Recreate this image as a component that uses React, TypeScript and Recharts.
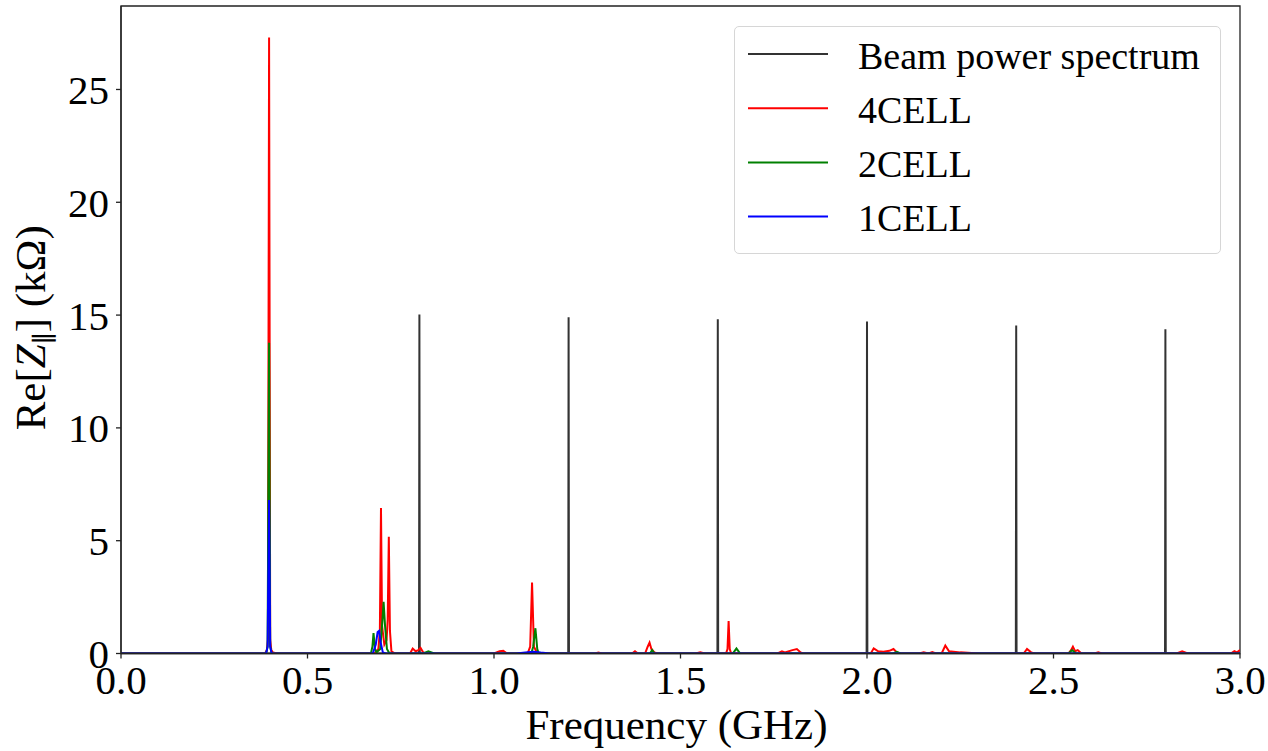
import React from 'react';
import { LineChart, Line, XAxis, YAxis, Legend, ReferenceArea } from 'recharts';

const xTicks = [0, 0.5, 1.0, 1.5, 2.0, 2.5, 3.0];
const yTicks = [0, 5, 10, 15, 20, 25];
const xDomain: [number, number] = [0, 3];
const yDomain: [number, number] = [0, 28.7];

const beamSpectrum: [number, number][] = [
  [0, 0], [0.799, 0], [0.8, 15.03], [0.801, 0],
  [1.199, 0], [1.2, 14.9], [1.201, 0],
  [1.599, 0], [1.6, 14.81], [1.601, 0],
  [1.999, 0], [2.0, 14.72], [2.001, 0],
  [2.399, 0], [2.4, 14.54], [2.401, 0],
  [2.799, 0], [2.8, 14.37], [2.801, 0], [3.0, 0],
];

const cell4: [number, number][] = [
  [0, 0], [0.386, 0], [0.391, 0.15], [0.394, 0.6], [0.397, 27.3], [0.4, 0.6], [0.403, 0.15], [0.407, 0.05], [0.42, 0],
  [0.68, 0], [0.69, 0.2], [0.694, 1.0], [0.697, 6.45], [0.7, 1.2], [0.706, 0.4], [0.712, 0.6], [0.715, 1.5], [0.718, 5.17], [0.721, 1.0], [0.725, 0.1], [0.735, 0],
  [0.775, 0], [0.782, 0.22], [0.79, 0.1], [0.797, 0.15], [0.803, 0.25], [0.81, 0.05], [0.82, 0],
  [1.0, 0], [1.015, 0.1], [1.025, 0.12], [1.035, 0],
  [1.09, 0], [1.097, 0.3], [1.102, 3.15], [1.107, 0.3], [1.115, 0.05], [1.125, 0],
  [1.27, 0], [1.28, 0.04], [1.29, 0],
  [1.37, 0], [1.378, 0.1], [1.386, 0], [1.405, 0], [1.412, 0.3], [1.417, 0.48], [1.422, 0.2], [1.43, 0.05], [1.44, 0],
  [1.54, 0], [1.553, 0.05], [1.565, 0],
  [1.622, 0], [1.626, 0.2], [1.629, 1.44], [1.632, 0.2], [1.636, 0],
  [1.76, 0], [1.772, 0.1], [1.78, 0.05], [1.8, 0.15], [1.812, 0.2], [1.822, 0.05], [1.83, 0],
  [2.01, 0], [2.018, 0.23], [2.03, 0.1], [2.044, 0.08], [2.06, 0.12], [2.071, 0.2], [2.08, 0.05], [2.09, 0],
  [2.14, 0], [2.152, 0.05], [2.165, 0], [2.175, 0.06], [2.185, 0],
  [2.2, 0], [2.21, 0.35], [2.22, 0.1], [2.25, 0.05], [2.3, 0],
  [2.42, 0], [2.429, 0.2], [2.44, 0.05], [2.45, 0],
  [2.54, 0], [2.547, 0.15], [2.552, 0.3], [2.558, 0.1], [2.565, 0.15], [2.575, 0],
  [2.61, 0], [2.62, 0.05], [2.63, 0],
  [2.83, 0], [2.845, 0.1], [2.86, 0],
  [2.975, 0], [2.985, 0.1], [2.992, 0.05], [3.0, 0.15],
];

const cell2: [number, number][] = [
  [0, 0], [0.389, 0], [0.393, 0.3], [0.397, 13.77], [0.4, 0.3], [0.404, 0],
  [0.67, 0], [0.674, 0.3], [0.677, 0.9], [0.681, 0.2], [0.685, 0.05], [0.695, 0.2], [0.701, 1.5], [0.704, 2.29], [0.708, 1.2], [0.713, 0.2], [0.72, 0],
  [0.81, 0], [0.824, 0.1], [0.84, 0],
  [1.1, 0], [1.105, 0.3], [1.111, 1.12], [1.116, 0.2], [1.12, 0],
  [1.418, 0], [1.424, 0.15], [1.43, 0],
  [1.64, 0], [1.65, 0.22], [1.66, 0],
  [2.07, 0], [2.08, 0.07], [2.09, 0],
  [2.54, 0], [2.55, 0.15], [2.56, 0],
  [3.0, 0],
];

const cell1: [number, number][] = [
  [0, 0], [0.389, 0], [0.393, 0.3], [0.397, 6.8], [0.4, 0.3], [0.404, 0],
  [0.675, 0], [0.683, 0.4], [0.688, 0.95], [0.692, 1.0], [0.696, 0.5], [0.702, 0.05], [0.71, 0],
  [1.06, 0], [1.09, 0.06], [1.105, 0.08], [1.125, 0.04], [1.15, 0],
  [3.0, 0],
];

const toPoints = (arr: [number, number][]) => arr.map(([f, z]) => ({ f, z }));

const series = [
  { name: 'Beam power spectrum', color: '#333333', data: toPoints(beamSpectrum) },
  { name: '4CELL', color: '#ff0000', data: toPoints(cell4) },
  { name: '2CELL', color: '#008000', data: toPoints(cell2) },
  { name: '1CELL', color: '#0000ff', data: toPoints(cell1) },
];

const FONT = '"Liberation Serif", "DejaVu Serif", serif';
const AXIS = '#222222';

const renderXLabel = (props: any) => {
  const vb = props.viewBox || { x: 121, width: 1119 };
  return (
    <text x={vb.x + vb.width / 2 - 4} y={739} textAnchor="middle" fontSize={43} fontFamily={FONT} fill="#000">
      Frequency (GHz)
    </text>
  );
};

const renderYLabel = (props: any) => {
  const vb = props.viewBox || { y: 6, height: 647 };
  const cy = vb.y + vb.height / 2 - 2;
  const bx = 45;
  return (
    <text x={bx} y={cy} transform={`rotate(-90, ${bx}, ${cy})`} textAnchor="middle" fontSize={43} fontFamily={FONT} fill="#000">
      <tspan>Re[</tspan>
      <tspan fontStyle="italic">Z</tspan>
      <tspan fontSize={26} dy={8}>∥</tspan>
      <tspan dy={-8}>] (kΩ)</tspan>
    </text>
  );
};

const renderLegend = () => (
  <div
    style={{
      width: 487,
      height: 228,
      boxSizing: 'border-box',
      border: '1.5px solid #d6d6d6',
      borderRadius: 5,
      background: 'rgba(255,255,255,0.85)',
    }}
  >
    <svg width={484} height={225} style={{ display: 'block' }}>
      {series.map((s, i) => {
        const y = 27 + i * 54.2;
        return (
          <g key={s.name}>
            <line x1={13} x2={93} y1={y} y2={y} stroke={s.color} strokeWidth={2} />
            <text x={123} y={y + 14.5} fontSize={38} fontFamily={FONT} fill="#000">
              {s.name}
            </text>
          </g>
        );
      })}
    </svg>
  </div>
);

export default function App() {
  return (
    <div style={{ position: 'absolute', left: 0, top: 0, width: 1268, height: 751, background: '#fff' }}>
      <LineChart
        width={1268}
        height={751}
        margin={{ top: 6, right: 28, bottom: 0, left: 0 }}
        style={{ fontFamily: FONT }}
      >
        <XAxis
          dataKey="f"
          type="number"
          domain={xDomain}
          ticks={xTicks}
          allowDataOverflow
          height={97.5}
          tickFormatter={(v: number) => v.toFixed(1)}
          tick={{ fontSize: 41, fill: '#000', fontFamily: FONT }}
          tickSize={5}
          tickMargin={6}
          stroke={AXIS}
          strokeWidth={1.3}
          label={{ content: renderXLabel }}
        />
        <YAxis
          type="number"
          domain={yDomain}
          ticks={yTicks}
          allowDataOverflow
          width={121}
          tick={{ fontSize: 41, fill: '#000', fontFamily: FONT }}
          tickSize={5}
          tickMargin={7}
          stroke={AXIS}
          strokeWidth={1.3}
          label={{ content: renderYLabel }}
        />
        <ReferenceArea
          x1={xDomain[0]}
          x2={xDomain[1]}
          y1={yDomain[0]}
          y2={yDomain[1]}
          fill="none"
          fillOpacity={0}
          stroke={AXIS}
          strokeWidth={1.3}
          ifOverflow="visible"
        />
        <Legend
          layout="vertical"
          align="center"
          verticalAlign="middle"
          content={renderLegend}
          wrapperStyle={{ position: 'absolute', top: 26, left: 734, width: 487, height: 228 }}
        />
        {series.map((s) => (
          <Line
            key={s.name}
            name={s.name}
            data={s.data}
            dataKey="z"
            type="linear"
            stroke={s.color}
            strokeWidth={2}
            dot={false}
            activeDot={false}
            isAnimationActive={false}
          />
        ))}
      </LineChart>
    </div>
  );
}
